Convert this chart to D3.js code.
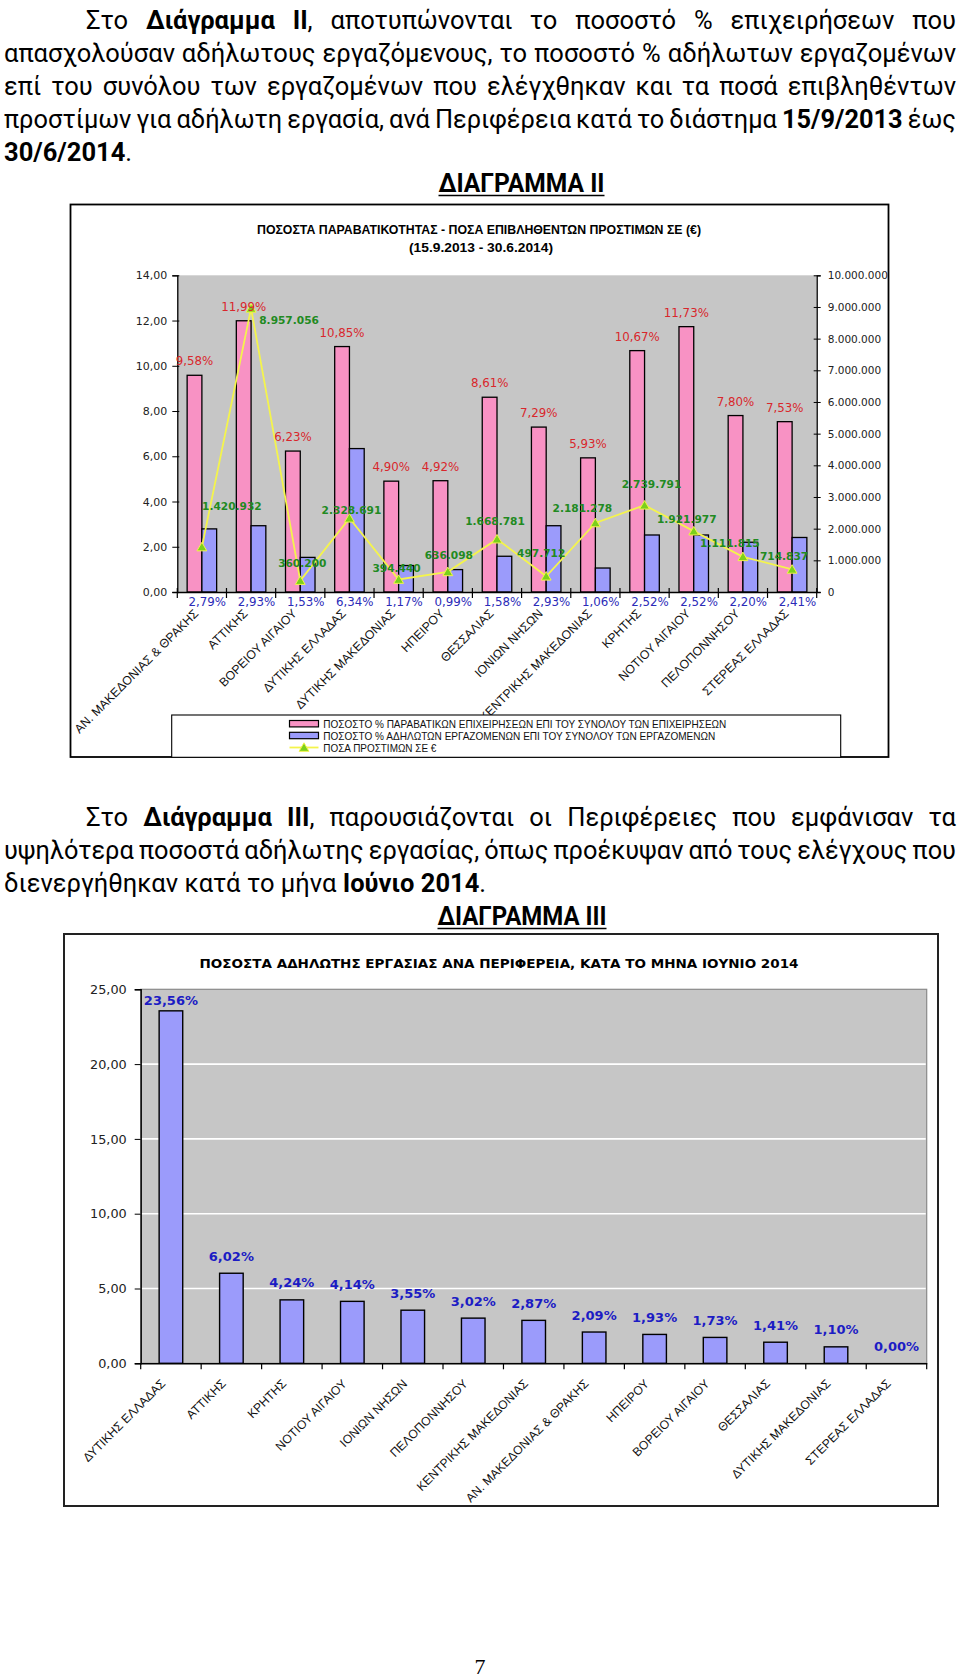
<!DOCTYPE html>
<html>
<head>
<meta charset="utf-8">
<script src="https://cdn.jsdelivr.net/npm/d3@7"></script>
<style>
  html, body { margin: 0; padding: 0; background: #ffffff; }
  svg { display: block; }
</style>
</head>
<body>
<script>
// ---------------- DATA ----------------
// Chart II
const regions2 = ["ΑΝ. ΜΑΚΕΔΟΝΙΑΣ & ΘΡΑΚΗΣ", "ΑΤΤΙΚΗΣ", "ΒΟΡΕΙΟΥ ΑΙΓΑΙΟΥ", "ΔΥΤΙΚΗΣ ΕΛΛΑΔΑΣ",
  "ΔΥΤΙΚΗΣ ΜΑΚΕΔΟΝΙΑΣ", "ΗΠΕΙΡΟΥ", "ΘΕΣΣΑΛΙΑΣ", "ΙΟΝΙΩΝ ΝΗΣΩΝ", "ΚΕΝΤΡΙΚΗΣ ΜΑΚΕΔΟΝΙΑΣ",
  "ΚΡΗΤΗΣ", "ΝΟΤΙΟΥ ΑΙΓΑΙΟΥ", "ΠΕΛΟΠΟΝΝΗΣΟΥ", "ΣΤΕΡΕΑΣ ΕΛΛΑΔΑΣ"];
const violationPct = [9.58, 11.99, 6.23, 10.85, 4.90, 4.92, 8.61, 7.29, 5.93, 10.67, 11.73, 7.80, 7.53];
const undeclaredPct = [2.79, 2.93, 1.53, 6.34, 1.17, 0.99, 1.58, 2.93, 1.06, 2.52, 2.52, 2.20, 2.41];
const fines = [1420932, 8957056, 360200, 2328691, 394440, 636098, 1668781, 497712, 2181278, 2739791, 1921977, 1111815, 714837];
const leftTicks2 = [0, 2, 4, 6, 8, 10, 12, 14];
const rightTicks2 = [0, 1000000, 2000000, 3000000, 4000000, 5000000, 6000000, 7000000, 8000000, 9000000, 10000000];
const legend2 = ["ΠΟΣΟΣΤΟ %  ΠΑΡΑΒΑΤΙΚΩΝ ΕΠΙΧΕΙΡΗΣΕΩΝ ΕΠΙ ΤΟΥ ΣΥΝΟΛΟΥ ΤΩΝ ΕΠΙΧΕΙΡΗΣΕΩΝ",
  "ΠΟΣΟΣΤΟ % ΑΔΗΛΩΤΩΝ ΕΡΓΑΖΟΜΕΝΩΝ ΕΠΙ ΤΟΥ ΣΥΝΟΛΟΥ ΤΩΝ ΕΡΓΑΖΟΜΕΝΩΝ",
  "ΠΟΣΑ ΠΡΟΣΤΙΜΩΝ ΣΕ €"];

// Chart III
const regions3 = ["ΔΥΤΙΚΗΣ ΕΛΛΑΔΑΣ", "ΑΤΤΙΚΗΣ", "ΚΡΗΤΗΣ", "ΝΟΤΙΟΥ ΑΙΓΑΙΟΥ", "ΙΟΝΙΩΝ ΝΗΣΩΝ",
  "ΠΕΛΟΠΟΝΝΗΣΟΥ", "ΚΕΝΤΡΙΚΗΣ ΜΑΚΕΔΟΝΙΑΣ", "ΑΝ. ΜΑΚΕΔΟΝΙΑΣ & ΘΡΑΚΗΣ", "ΗΠΕΙΡΟΥ",
  "ΒΟΡΕΙΟΥ ΑΙΓΑΙΟΥ", "ΘΕΣΣΑΛΙΑΣ", "ΔΥΤΙΚΗΣ ΜΑΚΕΔΟΝΙΑΣ", "ΣΤΕΡΕΑΣ ΕΛΛΑΔΑΣ"];
const juneUndeclared = [23.56, 6.02, 4.24, 4.14, 3.55, 3.02, 2.87, 2.09, 1.93, 1.73, 1.41, 1.10, 0.00];
const ticks3 = [0, 5, 10, 15, 20, 25];

// Text
const para1 = [
  [["Στο ", 0], ["Διάγραμμα ΙΙ", 1], [", αποτυπώνονται το ποσοστό % επιχειρήσεων που", 0]],
  [["απασχολούσαν αδήλωτους εργαζόμενους, το ποσοστό % αδήλωτων εργαζομένων", 0]],
  [["επί του συνόλου των εργαζομένων που ελέγχθηκαν και τα ποσά επιβληθέντων", 0]],
  [["προστίμων για αδήλωτη εργασία, ανά Περιφέρεια κατά το διάστημα ", 0], ["15/9/2013", 1], [" έως", 0]],
  [["30/6/2014", 1], [".", 0]]
];
const para2 = [
  [["Στο ", 0], ["Διάγραμμα ΙΙΙ", 1], [", παρουσιάζονται οι Περιφέρειες που εμφάνισαν τα", 0]],
  [["υψηλότερα ποσοστά αδήλωτης εργασίας, όπως προέκυψαν από τους ελέγχους που", 0]],
  [["διενεργήθηκαν κατά το μήνα ", 0], ["Ιούνιο 2014", 1], [".", 0]]
];
const heading2 = "ΔΙΑΓΡΑΜΜΑ ΙΙ";
const heading3 = "ΔΙΑΓΡΑΜΜΑ ΙΙΙ";
const title2 = ["ΠΟΣΟΣΤΑ ΠΑΡΑΒΑΤΙΚΟΤΗΤΑΣ - ΠΟΣΑ ΕΠΙΒΛΗΘΕΝΤΩΝ ΠΡΟΣΤΙΜΩΝ ΣΕ (€)", "(15.9.2013 - 30.6.2014)"];
const title3 = "ΠΟΣΟΣΤΑ ΑΔΗΛΩΤΗΣ ΕΡΓΑΣΙΑΣ ΑΝΑ ΠΕΡΙΦΕΡΕΙΑ, ΚΑΤΑ ΤΟ ΜΗΝΑ ΙΟΥΝΙΟ 2014";
const pageNumber = "7";

// ---------------- LAYOUT / STYLE ----------------
const PINK = "#F892C4", BLUE = "#9B9BFB", GRAY = "#C6C6C6";
const RED = "#D9262C", LBLUE = "#2B2BB8", GREEN = "#218A21", DBLUE = "#1C1CC4";
const NARROW = "'Liberation Sans Narrow', 'Arial Narrow', 'Liberation Sans', sans-serif";
const VERD = "'DejaVu Sans', Verdana, sans-serif";
const BODY = "Roboto, 'Noto Sans', sans-serif";

// nudges (pixels) for the hand-placed fine labels of chart II
const fineLabelShift = [[30, -41], [38, 12], [2, -18], [2, -8], [-2, -12], [1, -17], [-2, -18],
  [-5, -23], [-13, -15], [7, -21], [-7, -12], [-13, -14], [-8, -13]];

const svg = d3.select("body").append("svg").attr("width", 960).attr("height", 1678);

const fmtDec = d => d.toFixed(2).replace(".", ",");
const fmtPct = d => d.toFixed(2).replace(".", ",") + "%";
const fmtInt = d => d === 0 ? "0" : d3.format(",")(d).replace(/,/g, ".");

// ---------- justified paragraph lines ----------
function drawLine(pieces, x0, x1, y, justify, size) {
  const words = [];
  let cur = [];
  pieces.forEach(([t, b]) => {
    t.split(/(\s+)/).forEach(part => {
      if (part === "") return;
      if (/^\s+$/.test(part)) { if (cur.length) { words.push(cur); cur = []; } }
      else cur.push([part, b]);
    });
  });
  if (cur.length) words.push(cur);
  const g = svg.append("g");
  const text = g.append("text")
    .attr("font-family", BODY).attr("font-size", size).attr("fill", "#000")
    .attr("y", y).attr("dominant-baseline", "central");
  const wordSpans = words.map(w => w.map(([t, b]) =>
    text.append("tspan").attr("font-weight", b ? "bold" : "normal").text(t)));
  const widths = wordSpans.map(sp => d3.sum(sp, s => s.node().getComputedTextLength()));
  const total = d3.sum(widths);
  const normalGap = size * 0.25;
  let gap = justify && words.length > 1 ? (x1 - x0 - total) / (words.length - 1) : normalGap;
  let scale = 1;
  if (gap < normalGap * 0.8) {
    gap = normalGap * 0.8;
    scale = (x1 - x0) / (total + gap * (words.length - 1));
  }
  let x = 0;
  wordSpans.forEach((sp, i) => {
    sp[0].attr("x", x);
    x += widths[i] + gap;
  });
  g.attr("transform", `translate(${x0},0) scale(${scale},1)`);
}

function drawHeading(txt, cx, cy, w) {
  svg.append("text").attr("x", cx).attr("y", cy).attr("text-anchor", "middle")
    .attr("dominant-baseline", "central").attr("font-family", BODY).attr("font-weight", "bold")
    .attr("font-size", 25.5).attr("textLength", w).attr("lengthAdjust", "spacingAndGlyphs").text(txt);
  svg.append("line").attr("x1", cx - w / 2).attr("x2", cx + w / 2)
    .attr("y1", cy + 12.5).attr("y2", cy + 12.5).attr("stroke", "#000").attr("stroke-width", 1.6);
}

// paragraph 1
para1.forEach((ln, i) => {
  const first = i === 0, last = i === para1.length - 1;
  drawLine(ln, first ? 86 : 4, 956, 19.5 + i * 33.2, !last, 25.5);
});
drawHeading(heading2, 521.5, 183, 166);

// ---------------- CHART II ----------------
(function chart2() {
  const box = { x: 70.5, y: 204.5, w: 818, h: 552.5 };
  const P = { l: 177.3, r: 816.7, t: 275.3, b: 592 };
  svg.append("rect").attr("x", box.x).attr("y", box.y).attr("width", box.w).attr("height", box.h)
    .attr("fill", "#fff").attr("stroke", "#000").attr("stroke-width", 1.8);

  svg.append("text").attr("x", 479).attr("y", 229.5).attr("text-anchor", "middle")
    .attr("dominant-baseline", "central").attr("font-family", NARROW).attr("font-weight", "bold")
    .attr("font-size", 13).attr("textLength", 444).attr("lengthAdjust", "spacingAndGlyphs").text(title2[0]);
  svg.append("text").attr("x", 481).attr("y", 247.5).attr("text-anchor", "middle")
    .attr("dominant-baseline", "central").attr("font-family", NARROW).attr("font-weight", "bold")
    .attr("font-size", 13).attr("textLength", 144).attr("lengthAdjust", "spacingAndGlyphs").text(title2[1]);

  const x = d3.scaleBand().domain(regions2).range([P.l, P.r]).padding(0);
  const yL = d3.scaleLinear().domain([0, 14]).range([P.b, P.t]);
  const yR = d3.scaleLinear().domain([0, 10000000]).range([P.b, P.t]);
  const bw = x.bandwidth() * 0.3;
  const off = x.bandwidth() * 0.2;

  svg.append("rect").attr("x", P.l).attr("y", P.t).attr("width", P.r - P.l).attr("height", P.b - P.t)
    .attr("fill", GRAY);

  const g = svg.append("g");
  g.selectAll(".pink").data(violationPct).join("rect")
    .attr("x", (d, i) => x(regions2[i]) + off).attr("y", d => yL(d))
    .attr("width", bw).attr("height", d => P.b - yL(d))
    .attr("fill", PINK).attr("stroke", "#000").attr("stroke-width", 1.3);
  g.selectAll(".blue").data(undeclaredPct).join("rect")
    .attr("x", (d, i) => x(regions2[i]) + off + bw).attr("y", d => yL(d))
    .attr("width", bw).attr("height", d => P.b - yL(d))
    .attr("fill", BLUE).attr("stroke", "#000").attr("stroke-width", 1.3);

  // left axis
  const axL = svg.append("g").attr("transform", `translate(${P.l},0)`)
    .call(d3.axisLeft(yL).tickValues(leftTicks2).tickFormat(fmtDec).tickSize(5).tickPadding(5));
  axL.select(".domain").attr("stroke", "#000").attr("stroke-width", 1.3);
  axL.selectAll(".tick line").attr("stroke", "#000").attr("x2", -5).attr("x1", 2);
  axL.selectAll("text").attr("font-family", VERD).attr("font-size", 11).attr("fill", "#222");

  // right axis
  const axR = svg.append("g").attr("transform", `translate(${P.r},0)`)
    .call(d3.axisRight(yR).tickValues(rightTicks2).tickFormat(fmtInt).tickSize(4).tickPadding(7));
  axR.select(".domain").attr("stroke", "#000").attr("stroke-width", 1.3);
  axR.selectAll(".tick line").attr("stroke", "#000").attr("x1", -3).attr("x2", 4);
  axR.selectAll("text").attr("font-family", VERD).attr("font-size", 10.5).attr("fill", "#222");

  // bottom axis
  const axB = svg.append("g").attr("transform", `translate(0,${P.b})`)
    .call(d3.axisBottom(x).tickSize(0).tickFormat(""));
  axB.select(".domain").attr("stroke", "#000").attr("stroke-width", 1.3);
  axB.selectAll(".tick").remove();
  const bounds = regions2.map(r => x(r)).concat([P.r]);
  svg.append("g").selectAll("line").data(bounds).join("line")
    .attr("x1", d => d).attr("x2", d => d).attr("y1", P.b - 4).attr("y2", P.b + 6)
    .attr("stroke", "#000").attr("stroke-width", 1.2);

  // category labels
  svg.append("g").selectAll("text").data(regions2).join("text")
    .attr("transform", d => `translate(${x(d) + x.bandwidth() / 2 - 9},${P.b + 16}) rotate(-45)`)
    .attr("text-anchor", "end").attr("dy", "0.72em")
    .attr("font-family", NARROW).attr("font-size", 12.3).attr("fill", "#111").text(d => d);

  // fines line
  const cx = (d, i) => x(regions2[i]) + x.bandwidth() / 2;
  const line = d3.line().x((d, i) => cx(d, i)).y(d => yR(d));
  svg.append("path").datum(fines).attr("d", line).attr("fill", "none")
    .attr("stroke", "#F4F44C").attr("stroke-width", 1.8);
  const tri = d3.symbol().type(d3.symbolTriangle).size(42);
  svg.append("g").selectAll("path").data(fines).join("path")
    .attr("d", tri).attr("transform", (d, i) => `translate(${cx(d, i)},${yR(d) + 1})`)
    .attr("fill", "#7BD01C").attr("stroke", "#F4F44C").attr("stroke-width", 1);

  // labels
  svg.append("g").selectAll("text").data(violationPct).join("text")
    .attr("x", (d, i) => x(regions2[i]) + off + bw / 2).attr("y", d => yL(d) - 14)
    .attr("text-anchor", "middle").attr("dominant-baseline", "central")
    .attr("font-family", VERD).attr("font-size", 11.8).attr("fill", RED).text(fmtPct);
  svg.append("g").selectAll("text").data(undeclaredPct).join("text")
    .attr("x", (d, i) => x(regions2[i]) + off + bw * 1.5 - 2).attr("y", P.b + 9.5)
    .attr("text-anchor", "middle").attr("dominant-baseline", "central")
    .attr("font-family", VERD).attr("font-size", 11.8).attr("fill", LBLUE).text(fmtPct);
  svg.append("g").selectAll("text").data(fines).join("text")
    .attr("x", (d, i) => cx(d, i) + fineLabelShift[i][0]).attr("y", (d, i) => yR(d) + fineLabelShift[i][1])
    .attr("text-anchor", "middle").attr("dominant-baseline", "central")
    .attr("font-family", VERD).attr("font-weight", "bold").attr("font-size", 10.6).attr("fill", GREEN)
    .text(fmtInt);

  // legend
  const L = { x: 171.7, y: 715, w: 669, h: 42.3 };
  svg.append("rect").attr("x", L.x).attr("y", L.y).attr("width", L.w).attr("height", L.h)
    .attr("fill", "#fff").attr("stroke", "#000").attr("stroke-width", 1.1);
  const rows = [723.7, 735.5, 747.5];
  const lw = [403, 392, 113];
  [PINK, BLUE].forEach((c, i) => {
    svg.append("rect").attr("x", 289.5).attr("y", rows[i] - 3.2).attr("width", 29).attr("height", 6.4)
      .attr("fill", c).attr("stroke", "#000").attr("stroke-width", 1.2);
  });
  svg.append("line").attr("x1", 289.5).attr("x2", 318.5).attr("y1", rows[2]).attr("y2", rows[2])
    .attr("stroke", "#F4F44C").attr("stroke-width", 1.8);
  svg.append("path").attr("d", tri).attr("transform", `translate(304,${rows[2] + 1})`)
    .attr("fill", "#7BD01C").attr("stroke", "#F4F44C").attr("stroke-width", 1);
  legend2.forEach((t, i) => {
    svg.append("text").attr("x", 323.3).attr("y", rows[i]).attr("dominant-baseline", "central")
      .attr("font-family", NARROW).attr("font-size", 10.5).attr("fill", "#111")
      .attr("textLength", lw[i]).attr("lengthAdjust", "spacingAndGlyphs").text(t);
  });
})();

// paragraph 2
para2.forEach((ln, i) => {
  const first = i === 0, last = i === para2.length - 1;
  drawLine(ln, first ? 86 : 4, 956, 816.5 + i * 33.2, !last, 25.5);
});
drawHeading(heading3, 522, 916, 169);

// ---------------- CHART III ----------------
(function chart3() {
  const box = { x: 64, y: 934, w: 874, h: 572 };
  const P = { l: 140.7, r: 926.7, t: 989.3, b: 1363.3 };
  svg.append("rect").attr("x", box.x).attr("y", box.y).attr("width", box.w).attr("height", box.h)
    .attr("fill", "#fff").attr("stroke", "#222").attr("stroke-width", 2);

  svg.append("text").attr("x", 499).attr("y", 963.5).attr("text-anchor", "middle")
    .attr("dominant-baseline", "central").attr("font-family", VERD).attr("font-weight", "bold")
    .attr("font-size", 13).attr("textLength", 599).attr("lengthAdjust", "spacingAndGlyphs").text(title3);

  const x = d3.scaleBand().domain(regions3).range([P.l, P.r]).padding(0);
  const y = d3.scaleLinear().domain([0, 25]).range([P.b, P.t]);
  const bw = x.bandwidth() * 0.39;

  svg.append("rect").attr("x", P.l).attr("y", P.t).attr("width", P.r - P.l).attr("height", P.b - P.t)
    .attr("fill", GRAY).attr("stroke", "#8a8a8a").attr("stroke-width", 1.2);
  svg.append("g").selectAll("line").data(ticks3.filter(t => t > 0 && t < 25)).join("line")
    .attr("x1", P.l).attr("x2", P.r - 1).attr("y1", d => y(d)).attr("y2", d => y(d))
    .attr("stroke", "#fff").attr("stroke-width", 1.6);

  svg.append("g").selectAll("rect").data(juneUndeclared).join("rect")
    .attr("x", (d, i) => x(regions3[i]) + (x.bandwidth() - bw) / 2).attr("y", d => y(d))
    .attr("width", bw).attr("height", d => P.b - y(d))
    .attr("fill", BLUE).attr("stroke", "#000").attr("stroke-width", 1.4);

  const axL = svg.append("g").attr("transform", `translate(${P.l},0)`)
    .call(d3.axisLeft(y).tickValues(ticks3).tickFormat(fmtDec).tickSize(6).tickPadding(8));
  axL.select(".domain").attr("stroke", "#000").attr("stroke-width", 1.4);
  axL.selectAll(".tick line").attr("stroke", "#000");
  axL.selectAll("text").attr("font-family", VERD).attr("font-size", 12.8).attr("fill", "#222");

  const axB = svg.append("g").attr("transform", `translate(0,${P.b})`)
    .call(d3.axisBottom(x).tickSize(0).tickFormat(""));
  axB.select(".domain").attr("stroke", "#000").attr("stroke-width", 1.4);
  axB.selectAll(".tick").remove();
  const bounds = regions3.map(r => x(r)).concat([P.r]);
  svg.append("g").selectAll("line").data(bounds).join("line")
    .attr("x1", d => d).attr("x2", d => d).attr("y1", P.b).attr("y2", P.b + 6)
    .attr("stroke", "#000").attr("stroke-width", 1.2);

  svg.append("g").selectAll("text").data(regions3).join("text")
    .attr("transform", d => `translate(${x(d) + x.bandwidth() / 2 - 11},${P.b + 15}) rotate(-45)`)
    .attr("text-anchor", "end").attr("dy", "0.72em")
    .attr("font-family", NARROW).attr("font-size", 12.2).attr("fill", "#111").text(d => d);

  svg.append("g").selectAll("text").data(juneUndeclared).join("text")
    .attr("x", (d, i) => x(regions3[i]) + x.bandwidth() / 2)
    .attr("y", d => Math.max(y(d) - 17, P.t + 11))
    .attr("text-anchor", "middle").attr("dominant-baseline", "central")
    .attr("font-family", VERD).attr("font-weight", "bold").attr("font-size", 13).attr("fill", DBLUE)
    .text(fmtPct);
})();

svg.append("text").attr("x", 480).attr("y", 1674).attr("text-anchor", "middle")
  .attr("font-family", "'Liberation Serif', 'DejaVu Serif', serif")
  .attr("font-size", 22).attr("fill", "#000").text(pageNumber);
</script>
</body>
</html>
